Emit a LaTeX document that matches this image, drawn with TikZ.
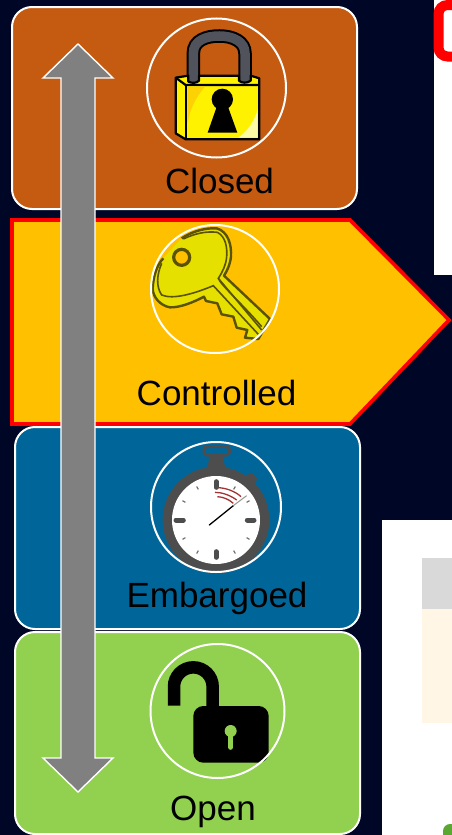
\documentclass[tikz,border=0pt]{standalone}
\usepackage{fontspec}
\usetikzlibrary{calc}
\setmainfont{Liberation Sans}
\definecolor{navy}{HTML}{000626}
\definecolor{rust}{HTML}{C55A11}
\definecolor{amber}{HTML}{FFC000}
\definecolor{steel}{HTML}{006699}
\definecolor{leaf}{HTML}{92D050}
\definecolor{keyy}{HTML}{E6E000}
\definecolor{keyd}{HTML}{5A5200}
\definecolor{watch}{HTML}{4D4D4D}
\definecolor{cream}{HTML}{FFF6E5}
\definecolor{blob}{HTML}{5AA832}
\definecolor{shack}{HTML}{50535C}
\tikzset{
 stage/.style={draw=white,line width=2pt,rounded corners=20pt},
 ring/.style={draw=white,line width=2pt},
 lab/.style={anchor=base,text=black,font=\fontsize{35}{40}\selectfont,inner sep=0pt},
 tick/.style={draw=watch!80,line width=1.2pt},
 bigtick/.style={draw=watch,line width=5pt,line cap=round},
 redarc/.style={draw=red!55!black!80,line width=1.3pt},
}
\begin{document}
\begin{tikzpicture}[x=1pt,y=-1pt]
\useasboundingbox (0,0) rectangle (452,835);
\clip (0,0) rectangle (452,835);
\fill[navy] (0,0) rectangle (452,835);
% right panels
\fill[white] (434,0) rectangle (452,275);
\draw[red,line width=10pt,rounded corners=9pt] (480,5) -- (438.5,5) -- (438.5,56.5) -- (480,56.5);
\fill[white] (382,520) rectangle (452,835);
\fill[black!15] (422,558) rectangle (452,609);
\fill[cream] (422,609) rectangle (452,723);
\fill[blob,rounded corners=7pt] (443,824) rectangle (470,850);
% stages
\draw[stage,fill=rust] (12,7) rectangle (357,209);
\draw[red,line width=3.6pt,fill=amber,line join=miter] (12,220) -- (350,220) -- (449,320) -- (350,424) -- (12,424) -- cycle;
\draw[stage,fill=steel] (15,427) rectangle (360,629);
\draw[stage,fill=leaf] (15,632) rectangle (360,834);
% padlock
\begin{scope}[shift={(130,10)},x=1/3*1pt,y=-1/3*1pt]
 \draw[black,line width=13.5pt] (190,215) -- (190,130) .. controls (190,90) and (230,78) .. (268,78) .. controls (310,78) and (345,95) .. (345,130) -- (345,215);
 \draw[shack,line width=9.5pt,line cap=round] (190,210) -- (190,130) .. controls (190,90) and (230,78) .. (268,78) .. controls (310,78) and (345,95) .. (345,130) -- (345,210);
 \draw[black,line width=2.2pt,line join=round,fill=yellow] (137,203) -- (175,197) -- (175,215) .. controls (185,220) and (200,220) .. (207,212) -- (207,197) -- (327,197) -- (327,212) .. controls (335,220) and (352,220) .. (362,212) -- (362,197) -- (388,205) -- (388,388) -- (167,388) -- (137,370) -- cycle;
 \draw[black,line width=2.2pt] (137,203) -- (167,225) -- (388,225);
 \draw[black,line width=2.2pt] (167,225) -- (167,388);
 \fill[yellow!70!orange] (172,230) -- (225,230) .. controls (195,265) and (180,300) .. (175,330) -- (172,340) -- cycle;
 \fill[yellow!35!white] (383,300) .. controls (370,340) and (350,365) .. (325,383) -- (383,383) -- cycle;
 \fill[black] (277,268) circle[radius=32] (262,285) -- (292,285) -- (322,368) -- (233,368) -- cycle;
\end{scope}
\draw[ring] (216.5,88) circle[radius=69.5pt];
% key
\begin{scope}[shift={(130,215)},x=1/3*1pt,y=-1/3*1pt]
 \draw[keyd,line width=2.4pt,line join=round,fill=keyy]
  (155,70) .. controls (185,50) and (225,38) .. (260,40) .. controls (295,50) and (305,90) .. (303,125) .. controls (300,150) and (290,170) .. (282,182)
  -- (420,312) -- (385,372) -- (345,368) -- (352,345) -- (320,338) -- (310,305) -- (275,298) -- (262,265) -- (228,258) -- (222,245)
  .. controls (190,262) and (150,278) .. (120,277) .. controls (90,272) and (68,245) .. (68,220) .. controls (70,185) and (80,150) .. (100,130);
 \draw[keyd,line width=1.6pt] (160,72) .. controls (195,55) and (230,48) .. (262,52) .. controls (288,65) and (292,100) .. (290,125) .. controls (288,150) and (278,170) .. (265,190) -- (395,345);
 \draw[keyd,line width=1.6pt] (95,145) .. controls (80,180) and (78,215) .. (95,240) .. controls (130,255) and (195,235) .. (250,212) -- (385,358);
 \draw[keyd,line width=1.6pt] (265,190) .. controls (272,210) and (340,270) .. (395,335);
 \draw[keyd,line width=3.2pt,fill=amber] (155,127) circle[radius=24];
\end{scope}
\draw[ring] (215,289) circle[radius=64pt];
% stopwatch
\begin{scope}[shift={(140,435)},x=1/3*1pt,y=-1/3*1pt]
 \draw[watch,line width=3pt,rounded corners=3pt] (192,35) rectangle (268,60);
 \fill[watch] (208,60) -- (250,60) -- (252,85) -- (265,110) -- (195,110) -- (205,85) -- cycle;
 \fill[watch] (305,130) -- (335,112) -- (352,132) -- (335,158) -- cycle;
 \fill[watch] (228,255) circle[radius=160];
 \fill[white] (228,255) circle[radius=132];
 \draw[bigtick] (228,140) -- (228,157) (228,350) -- (228,367) (108,255) -- (130,255) (322,255) -- (342,255);
 \foreach \a in {30,60,120,150,210,240,300,330}
  \draw[tick] ($(228,255)+(\a:116)$) -- ($(228,255)+(\a:106)$);
 \draw[redarc] (232,158) .. controls (255,158) and (285,168) .. (303,185);
 \draw[redarc] (225,172) .. controls (245,172) and (270,180) .. (290,195);
 \draw[redarc] (232,185) .. controls (250,186) and (265,192) .. (280,205);
 \draw[black,line width=1.3pt,line cap=round] (208,270) -- (280,212);
 \draw[watch!60,line width=1pt] (280,212) -- (320,182);
\end{scope}
\draw[ring] (216,507) circle[radius=65pt];
% open lock
\begin{scope}[shift={(140,650)},x=1/3*1pt,y=-1/3*1pt]
 \draw[black,line width=12.5pt] (102,167) -- (102,110) arc[start angle=180,end angle=360,radius=58] -- (218,190);
 \fill[black,rounded corners=10pt] (160,168) rectangle (386,338);
 \fill[leaf] (272,243) circle[radius=18];
 \draw[leaf,line width=5pt,line cap=round] (272,243) -- (272,292);
\end{scope}
\draw[ring] (217.5,711) circle[radius=67pt];
% labels
\node[lab] (closed) at (219.5,193) {Closed};
\node[lab] (controlled) at (216.5,405) {Controlled};
\node[lab] (embargoed) at (217,607) {Embargoed};
\node[lab] (open) at (213,820) {Open};
% double arrow
\draw[white,line width=1.4pt,fill=black!50,line join=miter] (78,44) -- (113,78) -- (95,78) -- (95,758) -- (113,758) -- (78,792) -- (43,758) -- (61,758) -- (61,78) -- (43,78) -- cycle;
\end{tikzpicture}
\end{document}
